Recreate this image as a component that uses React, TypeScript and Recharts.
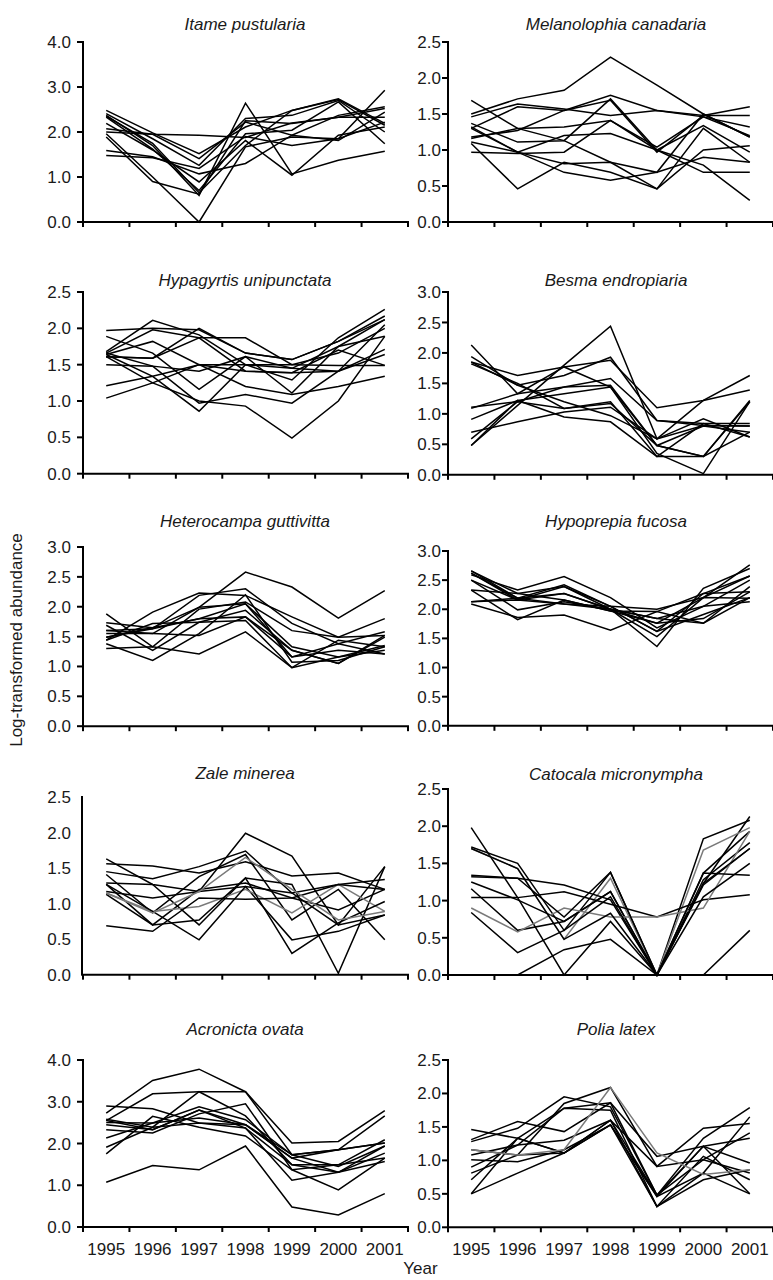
import React from 'react';
import { LineChart, Line, XAxis, YAxis } from 'recharts';

// ---------- data ----------
const YEARS = [1995, 1996, 1997, 1998, 1999, 2000, 2001];
const X_TICKS = [1994.5, 1995.5, 1996.5, 1997.5, 1998.5, 1999.5, 2000.5, 2001.5];

const Y_TICKS_4 = [0, 1, 2, 3, 4];
const Y_TICKS_25 = [0, 0.5, 1, 1.5, 2, 2.5];
const Y_TICKS_3 = [0, 0.5, 1, 1.5, 2, 2.5, 3];
const ZALE_TICK_MARKS = [0, 0.4167, 0.8333, 1.25, 1.6667, 2.0833, 2.5];

const TITLES = [
  'Itame pustularia',
  'Melanolophia canadaria',
  'Hypagyrtis unipunctata',
  'Besma endropiaria',
  'Heterocampa guttivitta',
  'Hypoprepia fucosa',
  'Zale minerea',
  'Catocala micronympha',
  'Acronicta ovata',
  'Polia latex',
];

const ITAME_PUSTULARIA = [
  [2.48, 1.98, 1.52, 2.11, 2.48, 2.74, 2.19],
  [2.41, 1.85, 1.26, 2.30, 2.37, 2.70, 2.00],
  [2.37, 1.70, 0.59, 2.64, 1.07, 1.37, 1.57],
  [2.33, 1.62, 0.70, 1.96, 2.04, 2.67, 1.74],
  [2.19, 1.60, 0.89, 1.81, 1.04, 1.93, 2.11],
  [2.07, 1.95, 1.41, 2.22, 1.93, 2.37, 2.56],
  [1.96, 1.00, 0.00, 1.67, 1.89, 1.85, 2.22],
  [1.89, 0.90, 0.62, 2.25, 2.19, 2.33, 2.52],
  [1.59, 1.45, 1.07, 1.30, 1.93, 1.81, 2.44],
  [1.48, 1.43, 1.19, 1.90, 1.70, 1.85, 2.93],
  [2.00, 1.95, 1.93, 1.88, 2.20, 2.33, 2.33],
  [2.35, 1.75, 0.65, 1.70, 2.48, 2.72, 2.15],
];

const MELANOLOPHIA_CANADARIA = [
  [1.50, 1.71, 1.83, 2.29, 1.90, 1.50, 1.18],
  [1.46, 1.64, 1.57, 1.48, 1.55, 1.48, 1.48],
  [1.30, 1.60, 1.55, 1.76, 1.55, 1.46, 1.32],
  [1.16, 1.30, 1.32, 1.41, 1.04, 1.46, 1.20],
  [1.37, 1.11, 1.13, 1.71, 1.00, 1.34, 0.97],
  [1.18, 1.27, 1.55, 1.69, 0.97, 1.48, 1.60],
  [1.69, 1.30, 1.13, 0.83, 0.46, 1.30, 0.83],
  [1.32, 0.97, 1.20, 1.23, 1.00, 0.79, 0.30],
  [1.09, 0.46, 0.83, 0.69, 0.46, 1.00, 1.06],
  [1.11, 0.97, 0.69, 0.58, 0.69, 0.90, 0.83],
  [0.97, 0.95, 0.97, 1.41, 1.00, 0.69, 0.69],
  [1.30, 0.97, 0.81, 0.83, 0.69, 1.50, 1.18],
];

const HYPAGYRTIS_UNIPUNCTATA = [
  [1.97, 2.00, 1.98, 1.66, 1.57, 1.82, 2.17],
  [1.89, 1.66, 1.16, 1.61, 1.45, 1.75, 2.12],
  [1.68, 2.11, 1.91, 1.50, 1.29, 1.87, 2.26],
  [1.66, 1.98, 1.87, 1.87, 1.50, 1.66, 2.00],
  [1.64, 1.82, 1.50, 1.41, 1.39, 1.41, 1.71],
  [1.61, 1.59, 2.00, 1.66, 1.57, 1.82, 2.12],
  [1.50, 1.48, 1.41, 1.61, 1.11, 1.75, 1.89],
  [1.64, 1.34, 0.86, 1.50, 1.50, 1.49, 1.49],
  [1.21, 1.34, 1.50, 1.50, 1.45, 1.41, 1.64],
  [1.04, 1.25, 1.50, 1.20, 1.09, 1.20, 1.34],
  [1.61, 1.25, 1.00, 0.93, 0.49, 1.00, 1.89],
  [1.66, 1.48, 0.97, 1.09, 0.97, 1.41, 2.05],
  [1.61, 1.59, 1.87, 1.41, 1.39, 1.70, 1.49],
];

const BESMA_ENDROPIARIA = [
  [2.13, 1.33, 1.77, 1.44, 0.48, 0.30, 1.22],
  [1.94, 1.47, 1.63, 1.93, 0.89, 0.84, 0.84],
  [1.85, 1.63, 1.77, 1.88, 1.10, 1.22, 1.39],
  [0.48, 1.14, 1.80, 2.44, 0.59, 0.92, 0.62],
  [1.11, 1.20, 1.44, 1.47, 0.48, 0.30, 1.20],
  [1.09, 1.33, 1.44, 1.58, 0.89, 0.81, 0.80],
  [0.91, 1.22, 1.33, 1.44, 0.35, 0.02, 1.20],
  [0.70, 0.87, 1.03, 1.11, 0.59, 0.81, 0.80],
  [0.59, 1.20, 1.09, 1.20, 0.30, 0.30, 0.70],
  [0.48, 1.22, 0.95, 0.87, 0.30, 0.84, 0.62],
  [1.85, 1.47, 1.20, 0.97, 0.59, 1.22, 1.63],
  [1.82, 1.50, 1.09, 1.17, 0.48, 0.80, 0.70],
];

const HETEROCAMPA_GUTTIVITTA = [
  [1.49, 1.65, 1.99, 2.58, 2.33, 1.81, 2.27],
  [1.44, 1.91, 2.23, 2.19, 1.83, 1.49, 1.80],
  [1.60, 1.63, 2.19, 2.30, 1.72, 1.38, 1.58],
  [1.88, 1.33, 1.96, 2.08, 1.60, 1.49, 1.52],
  [1.73, 1.65, 1.80, 2.05, 1.33, 1.16, 1.35],
  [1.69, 1.27, 1.74, 1.94, 1.27, 1.05, 1.49],
  [1.55, 1.55, 1.52, 1.83, 1.16, 1.27, 1.21],
  [1.38, 1.10, 1.55, 2.20, 1.07, 1.10, 1.33],
  [1.30, 1.33, 1.21, 1.58, 0.98, 1.16, 1.27],
  [1.44, 1.72, 1.74, 1.77, 0.98, 1.44, 1.33],
  [1.49, 1.63, 1.80, 1.83, 1.27, 1.05, 1.52],
  [1.60, 1.55, 1.99, 2.05, 1.16, 1.38, 1.21],
];

const HYPOPREPIA_FUCOSA = [
  [2.66, 2.27, 2.39, 2.00, 1.53, 2.20, 2.76],
  [2.62, 2.19, 2.42, 2.05, 1.62, 2.27, 2.57],
  [2.59, 2.33, 2.56, 2.20, 1.68, 2.05, 2.50],
  [2.50, 2.16, 2.27, 2.00, 1.36, 2.36, 2.70],
  [2.33, 1.82, 2.16, 1.97, 1.76, 1.84, 2.30],
  [2.13, 2.19, 2.09, 2.05, 2.00, 2.20, 2.19],
  [2.09, 1.86, 1.90, 1.64, 1.96, 1.76, 2.39],
  [2.50, 1.99, 2.13, 2.00, 1.84, 2.05, 2.13],
  [2.62, 2.16, 2.39, 2.05, 1.62, 1.91, 2.20],
  [2.33, 2.27, 2.16, 1.97, 1.96, 2.27, 2.30],
  [2.66, 2.19, 2.27, 2.00, 1.76, 2.20, 2.57],
  [2.13, 2.16, 2.09, 2.00, 1.84, 1.76, 2.20],
];

const ZALE_MINEREA = [
  [1.63, 1.27, 1.17, 1.99, 1.67, 0.70, 1.52],
  [1.56, 1.53, 1.43, 1.59, 1.39, 1.43, 1.20],
  [1.45, 1.35, 1.52, 1.74, 1.15, 1.27, 1.34],
  [1.41, 0.87, 1.38, 1.69, 0.77, 1.20, 0.49],
  [1.29, 1.27, 0.70, 1.36, 1.27, 0.02, 1.52],
  [1.27, 0.70, 1.20, 1.29, 1.08, 0.91, 1.20],
  [1.17, 1.08, 1.17, 1.24, 0.49, 0.61, 0.84],
  [1.15, 0.89, 0.96, 1.20, 0.87, 1.27, 0.89],
  [1.13, 0.70, 0.77, 1.36, 0.30, 0.73, 1.03],
  [0.69, 0.61, 1.08, 1.06, 1.08, 1.27, 1.20],
  [1.27, 0.89, 0.49, 1.24, 1.15, 0.70, 0.84],
  [1.15, 0.87, 1.17, 1.65, 1.20, 0.77, 0.89],
];

const CATOCALA_MICRONYMPHA = [
  [1.98, 1.04, 0.00, 0.72, 0.00, 1.23, 2.13],
  [1.72, 1.50, 0.60, 1.38, 0.00, 1.83, 2.08],
  [1.70, 1.43, 0.48, 1.30, 0.00, 1.68, 1.98],
  [1.34, 1.30, 1.21, 1.01, 0.00, 1.37, 1.93],
  [1.04, 1.04, 1.12, 0.95, 0.78, 1.01, 1.08],
  [1.25, 1.01, 0.72, 1.12, 0.00, 1.21, 1.70],
  [1.16, 0.60, 0.72, 1.12, 0.00, 1.28, 1.78],
  [0.90, 0.58, 0.90, 0.78, 0.78, 0.90, 1.93],
  [0.84, 0.30, 0.60, 1.05, 0.00, 1.05, 1.50],
  [0.00, 0.00, 0.34, 0.48, 0.00, 0.00, 0.60],
  [1.32, 1.30, 0.78, 1.38, 0.00, 1.37, 1.34],
  [1.70, 1.43, 0.48, 0.83, 0.00, 1.23, 1.70],
];

const ACRONICTA_OVATA = [
  [2.73, 3.51, 3.78, 3.24, 2.01, 2.05, 2.79],
  [2.55, 3.19, 3.24, 3.24, 1.73, 1.85, 2.66],
  [2.58, 2.39, 3.24, 2.66, 1.49, 1.49, 2.09],
  [2.90, 2.83, 2.49, 2.45, 1.65, 1.85, 2.01],
  [2.50, 2.49, 2.88, 2.57, 1.73, 1.45, 1.94],
  [2.45, 2.33, 2.80, 2.37, 1.49, 1.31, 1.77],
  [2.33, 2.25, 2.71, 2.95, 1.37, 1.49, 1.65],
  [2.13, 2.49, 2.61, 2.45, 1.65, 1.31, 1.94],
  [1.91, 2.39, 2.49, 2.37, 1.12, 1.31, 1.57],
  [1.75, 2.65, 2.39, 2.18, 1.37, 0.89, 1.65],
  [1.07, 1.47, 1.37, 1.94, 0.48, 0.29, 0.80],
  [2.55, 2.33, 2.80, 2.45, 1.73, 1.85, 2.01],
];

const POLIA_LATEX = [
  [1.46, 1.33, 1.11, 1.60, 0.91, 1.48, 1.55],
  [1.31, 1.58, 1.43, 1.86, 1.06, 1.21, 1.33],
  [1.28, 1.48, 1.95, 1.80, 0.48, 1.33, 1.79],
  [1.16, 1.08, 1.85, 2.09, 0.91, 1.01, 0.81],
  [1.08, 1.23, 1.78, 1.75, 0.31, 1.06, 0.71],
  [1.01, 0.98, 1.16, 1.53, 0.46, 0.81, 1.65],
  [0.90, 1.23, 1.30, 1.60, 0.48, 1.21, 0.50],
  [0.81, 1.08, 1.11, 1.53, 0.31, 0.71, 0.86],
  [0.71, 1.33, 1.78, 1.86, 0.48, 1.01, 1.41],
  [0.50, 0.81, 1.11, 1.53, 0.46, 1.21, 0.96],
  [0.50, 1.33, 1.11, 1.60, 0.31, 0.81, 0.50],
  [1.16, 1.08, 1.16, 2.09, 1.11, 0.79, 0.86],
];

// ---------- layout / style ----------
const FONT = '"Liberation Sans", Arial, Helvetica, sans-serif';
const FONT_SIZE = 17;
const TEXT_COLOR = '#1a1a1a';
const PLOT_W = 325;
const COL_AXIS_X = [83.3, 448];
const COL_TITLE_X = [245, 616];
const COL_TICK_MARGIN = [6, 1];
const Y_ROOM = 60;
const TOP_PAD = 10;
const X_AXIS_H = 40;
const RIGHT_PAD = 12;
const HALF_STEP = PLOT_W / (X_TICKS.length - 1) / 2;

type Panel = {
  series: number[][];
  yMax: number;
  yTicks: number[];
  col: number;
  top: number;
  bottom: number;
  titleY: number;
  grey: number[];
  years: boolean;
  tickMarks?: number[];
};

const PANELS: Panel[] = [
  { series: ITAME_PUSTULARIA, yMax: 4, yTicks: Y_TICKS_4, col: 0, top: 41.7, bottom: 221.7, titleY: 29.5, grey: [], years: false },
  { series: MELANOLOPHIA_CANADARIA, yMax: 2.5, yTicks: Y_TICKS_25, col: 1, top: 41.7, bottom: 221.7, titleY: 29.5, grey: [], years: false },
  { series: HYPAGYRTIS_UNIPUNCTATA, yMax: 2.5, yTicks: Y_TICKS_25, col: 0, top: 292.3, bottom: 474, titleY: 286, grey: [], years: false },
  { series: BESMA_ENDROPIARIA, yMax: 3, yTicks: Y_TICKS_3, col: 1, top: 291.7, bottom: 474.5, titleY: 286, grey: [], years: false },
  { series: HETEROCAMPA_GUTTIVITTA, yMax: 3, yTicks: Y_TICKS_3, col: 0, top: 546.7, bottom: 725.9, titleY: 527, grey: [], years: false },
  { series: HYPOPREPIA_FUCOSA, yMax: 3, yTicks: Y_TICKS_3, col: 1, top: 551, bottom: 725.8, titleY: 527, grey: [], years: false },
  { series: ZALE_MINEREA, yMax: 2.5, yTicks: Y_TICKS_25, col: 0, top: 797.3, bottom: 975, titleY: 779, grey: [7, 11], years: false, tickMarks: ZALE_TICK_MARKS },
  { series: CATOCALA_MICRONYMPHA, yMax: 2.5, yTicks: Y_TICKS_25, col: 1, top: 789, bottom: 975, titleY: 780, grey: [2, 7], years: false },
  { series: ACRONICTA_OVATA, yMax: 4, yTicks: Y_TICKS_4, col: 0, top: 1060, bottom: 1227, titleY: 1035, grey: [], years: true },
  { series: POLIA_LATEX, yMax: 2.5, yTicks: Y_TICKS_25, col: 1, top: 1060, bottom: 1227.3, titleY: 1035, grey: [11], years: true },
];

const AXIS_STYLE = { stroke: '#000', strokeWidth: 2, strokeLinecap: 'square' as const };
const TICK_STYLE = { stroke: '#000', strokeWidth: 2 };

const buildRows = (series: number[][]) =>
  YEARS.map((year, i) => {
    const row: Record<string, number> = { year };
    series.forEach((s, k) => {
      row['s' + k] = s[i];
    });
    return row;
  });

const YearTick = (props: any) => {
  const { x, y, payload, show } = props;
  const year = payload.value + 0.5;
  if (!show || !YEARS.includes(year)) return <g />;
  return (
    <text x={x + HALF_STEP} y={y} dy={21} textAnchor="middle" fontSize={FONT_SIZE} fontFamily={FONT} fill={TEXT_COLOR}>
      {year}
    </text>
  );
};

const PanelChart = ({ p }: { p: Panel }) => {
  const plotH = p.bottom - p.top;
  const width = Y_ROOM + PLOT_W + RIGHT_PAD;
  const height = TOP_PAD + plotH + X_AXIS_H;
  const data = buildRows(p.series);
  const special = !!p.tickMarks;
  // with two left axes each gets 1px of width so both lines sit at the plot edge
  const yW = special ? 1 : Y_ROOM;
  const leftMargin = special ? Y_ROOM - 2 : 0;
  return (
    <div style={{ position: 'absolute', left: COL_AXIS_X[p.col] - Y_ROOM, top: p.top - TOP_PAD, width, height }}>
      <LineChart width={width} height={height} data={data} margin={{ top: TOP_PAD, right: RIGHT_PAD, bottom: 0, left: leftMargin }}>
        <XAxis
          type="number"
          dataKey="year"
          domain={[1994.5, 2001.5]}
          ticks={X_TICKS}
          interval={0}
          height={X_AXIS_H}
          tickSize={5}
          tickMargin={2}
          axisLine={AXIS_STYLE}
          tickLine={TICK_STYLE}
          tick={(tp: any) => <YearTick {...tp} show={p.years} />}
        />
        {special && (
          <YAxis
            yAxisId="marks"
            type="number"
            domain={[0, p.yMax]}
            ticks={p.tickMarks}
            interval={0}
            width={yW}
            tickSize={6}
            axisLine={AXIS_STYLE}
            tickLine={TICK_STYLE}
            tick={() => <g />}
          />
        )}
        <YAxis
          type="number"
          domain={[0, p.yMax]}
          ticks={p.yTicks}
          interval={0}
          width={yW}
          tickSize={6}
          tickMargin={COL_TICK_MARGIN[p.col]}
          axisLine={special ? false : AXIS_STYLE}
          tickLine={special ? false : TICK_STYLE}
          tick={{ fill: TEXT_COLOR, fontSize: FONT_SIZE, fontFamily: FONT }}
          tickFormatter={(v: number) => v.toFixed(1)}
        />
        {p.series.map((_, k) => (
          <Line
            key={k}
            type="linear"
            dataKey={'s' + k}
            stroke={p.grey.includes(k) ? '#7a7a7a' : '#000'}
            strokeWidth={1.5}
            dot={false}
            activeDot={false}
            isAnimationActive={false}
          />
        ))}
      </LineChart>
    </div>
  );
};

export default function App() {
  return (
    <div style={{ position: 'absolute', left: 0, top: 0, width: 773, height: 1280, overflow: 'hidden', background: '#fff' }}>
      {PANELS.map((p, i) => (
        <PanelChart key={i} p={p} />
      ))}
      <svg width={773} height={1280} style={{ position: 'absolute', left: 0, top: 0, pointerEvents: 'none' }}>
        {PANELS.map((p, i) => (
          <text key={i} x={COL_TITLE_X[p.col]} y={p.titleY} textAnchor="middle" fontSize={FONT_SIZE} fontStyle="italic" fontFamily={FONT} fill={TEXT_COLOR}>
            {TITLES[i]}
          </text>
        ))}
        <text x={22} y={640} transform="rotate(-90, 22, 640)" textAnchor="middle" fontSize={FONT_SIZE} fontFamily={FONT} fill={TEXT_COLOR}>
          Log-transformed abundance
        </text>
        <text x={420.5} y={1274} textAnchor="middle" fontSize={FONT_SIZE} fontFamily={FONT} fill={TEXT_COLOR}>
          Year
        </text>
      </svg>
    </div>
  );
}
